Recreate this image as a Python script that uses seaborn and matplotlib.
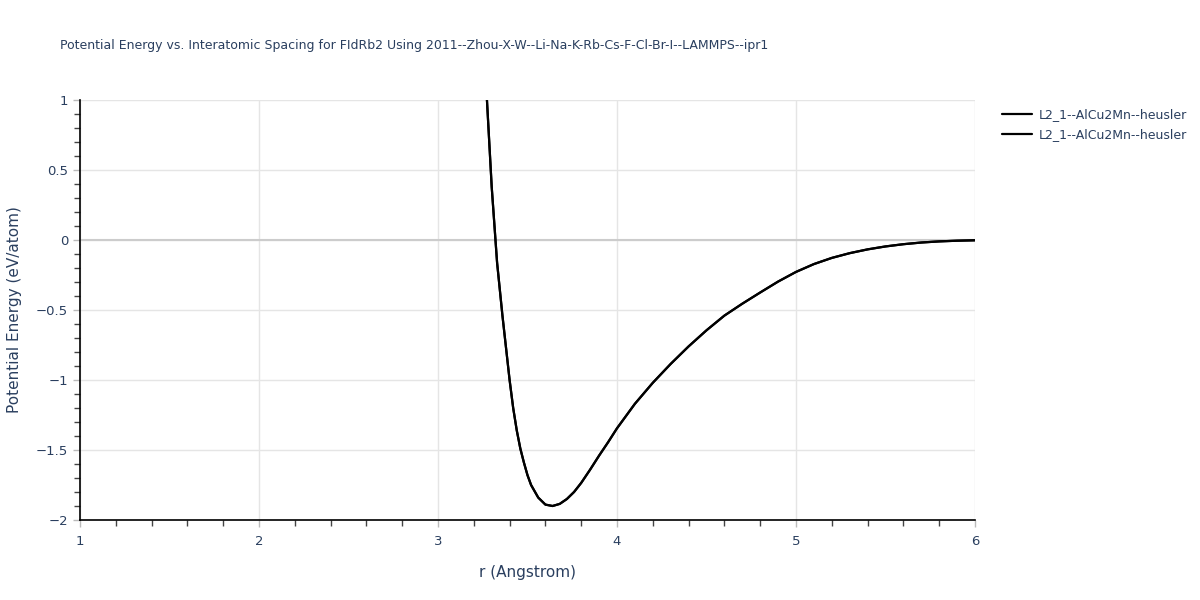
import matplotlib
matplotlib.use("Agg")
import matplotlib.pyplot as plt
import seaborn as sns
import pandas as pd
import numpy as np
from matplotlib.ticker import MultipleLocator, FuncFormatter

title = "Potential Energy vs. Interatomic Spacing for FIdRb2 Using 2011--Zhou-X-W--Li-Na-K-Rb-Cs-F-Cl-Br-I--LAMMPS--ipr1"
series_names = ["L2_1--AlCu2Mn--heusler", "L2_1--AlCu2Mn--heusler"]

r_vals = [3.25, 3.27, 3.30, 3.33, 3.36, 3.40, 3.42, 3.44, 3.46, 3.48, 3.50, 3.52, 3.56, 3.60, 3.64,
          3.68, 3.72, 3.76, 3.80, 3.85, 3.90, 3.95, 4.00, 4.10, 4.20, 4.30, 4.40,
          4.50, 4.60, 4.70, 4.80, 4.90, 5.00, 5.10, 5.20, 5.30, 5.40, 5.50, 5.60,
          5.70, 5.80, 5.90, 6.00]
e_vals = [1.45, 1.08, 0.38, -0.16, -0.54, -1.00, -1.20, -1.36, -1.49, -1.59, -1.68, -1.75, -1.84, -1.89, -1.90,
          -1.885, -1.85, -1.80, -1.735, -1.64, -1.54, -1.445, -1.345, -1.17, -1.02, -0.885, -0.76,
          -0.645, -0.54, -0.455, -0.375, -0.297, -0.228, -0.172, -0.128, -0.094, -0.067, -0.046, -0.030,
          -0.018, -0.010, -0.005, -0.002]

sns.set_style("white")
plt.rcParams['font.family'] = ['DejaVu Sans']

fig = plt.figure(figsize=(12, 6), dpi=100)
ax = fig.add_axes([80/1200, 80/600, 895/1200, 420/600])

text_color = "#2a3f5f"
for name in series_names:
    df = pd.DataFrame({"r": r_vals, "E": e_vals})
    sns.lineplot(data=df, x="r", y="E", ax=ax, color="black", linewidth=1.6,
                 label=name, sort=False, clip_on=True)

ax.set_xlim(1, 6)
ax.set_ylim(-2, 1)
ax.xaxis.set_major_locator(MultipleLocator(1))
ax.xaxis.set_minor_locator(MultipleLocator(0.2))
ax.yaxis.set_major_locator(MultipleLocator(0.5))
ax.yaxis.set_minor_locator(MultipleLocator(0.1))

def fmt(v, pos):
    if abs(v) < 1e-9:
        return "0"
    s = ("%g" % v)
    return s.replace("-", "\u2212")
ax.yaxis.set_major_formatter(FuncFormatter(fmt))
ax.xaxis.set_major_formatter(FuncFormatter(fmt))

ax.grid(True, which="major", color="#e5e5e5", linewidth=1)
ax.axhline(0, color="#cccccc", linewidth=1.5, zorder=1)
ax.set_axisbelow(True)

for s in ["top", "right"]:
    ax.spines[s].set_visible(False)
for s in ["left", "bottom"]:
    ax.spines[s].set_color("black")
    ax.spines[s].set_linewidth(1.2)

ax.tick_params(axis="both", which="both", bottom=True, left=True, top=False, right=False)
ax.tick_params(axis="both", which="major", direction="out", length=5, color="#bbbbbb",
               labelsize=9.5, labelcolor=text_color, width=1)
ax.tick_params(axis="both", which="minor", direction="out", length=4, color="#444444", width=1)
ax.tick_params(axis="x", which="major", pad=6)

ax.set_xlabel("r (Angstrom)", fontsize=11, color=text_color, labelpad=12)
ax.set_ylabel("Potential Energy (eV/atom)", fontsize=11, color=text_color, labelpad=10)

fig.text(60/1200, 1 - 45/600, title, fontsize=9, color=text_color, va="center", ha="left")

leg = ax.legend(loc="upper left", bbox_to_anchor=(997/1200, 1 - 103/600),
                bbox_transform=fig.transFigure, frameon=False, fontsize=9,
                handlelength=2.4, labelspacing=0.55, borderaxespad=0, handletextpad=0.5)
for t in leg.get_texts():
    t.set_color(text_color)

fig.savefig("out.png", dpi=100)
